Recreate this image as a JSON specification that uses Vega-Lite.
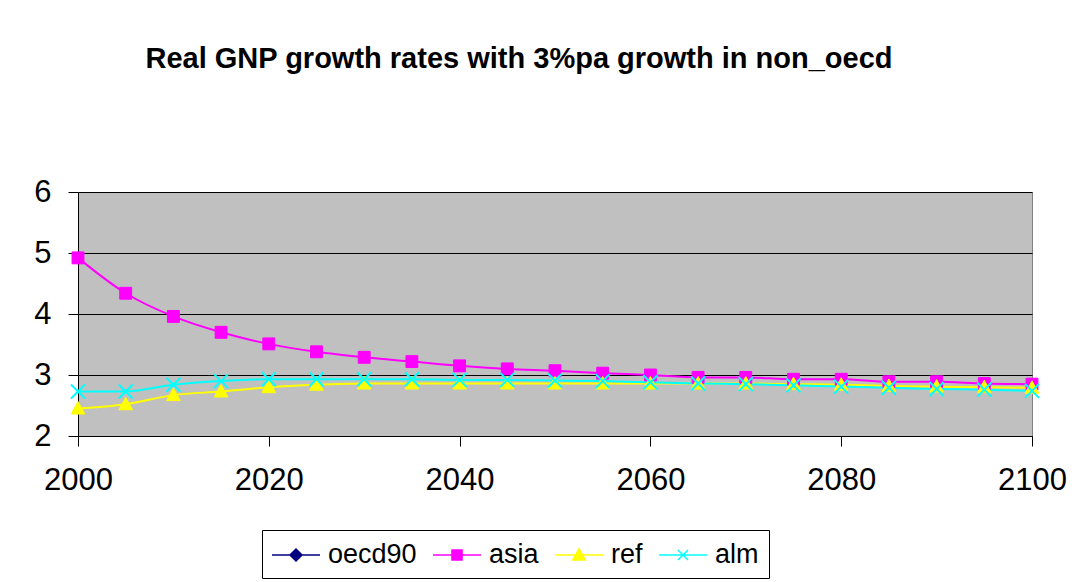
{
  "$schema": "https://vega.github.io/schema/vega-lite/v6.json",
  "autosize": {"type": "none"},
  "padding": {"left": 78, "top": 192, "right": 48, "bottom": 146},
  "width": 954,
  "height": 244,
  "background": "white",
  "title": {
    "text": "Real GNP growth rates with 3%pa growth in non_oecd",
    "anchor": "middle",
    "dx": -36,
    "offset": 79,
    "baseline": "alphabetic",
    "font": "Liberation Sans",
    "fontSize": 29,
    "fontWeight": "bold",
    "color": "black"
  },
  "config": {
    "view": {"fill": "#C0C0C0", "stroke": "#808080", "strokeWidth": 1},
    "axis": {
      "labelFont": "Liberation Sans",
      "labelFontSize": 31,
      "labelColor": "black",
      "domainColor": "black",
      "tickColor": "black",
      "gridColor": "black",
      "gridOpacity": 1,
      "domainWidth": 1,
      "tickWidth": 1,
      "gridWidth": 1,
      "tickSize": 10,
      "labelFlush": false,
      "labelOverlap": false,
      "labelBound": false,
      "title": null
    }
  },
  "data": {
    "values": [
      {"year": 2000, "series": "asia", "value": 4.92},
      {"year": 2005, "series": "asia", "value": 4.34},
      {"year": 2010, "series": "asia", "value": 3.96},
      {"year": 2015, "series": "asia", "value": 3.70},
      {"year": 2020, "series": "asia", "value": 3.51},
      {"year": 2025, "series": "asia", "value": 3.38},
      {"year": 2030, "series": "asia", "value": 3.29},
      {"year": 2035, "series": "asia", "value": 3.22},
      {"year": 2040, "series": "asia", "value": 3.15},
      {"year": 2045, "series": "asia", "value": 3.10},
      {"year": 2050, "series": "asia", "value": 3.07},
      {"year": 2055, "series": "asia", "value": 3.03},
      {"year": 2060, "series": "asia", "value": 3.00},
      {"year": 2065, "series": "asia", "value": 2.96},
      {"year": 2070, "series": "asia", "value": 2.96},
      {"year": 2075, "series": "asia", "value": 2.93},
      {"year": 2080, "series": "asia", "value": 2.93},
      {"year": 2085, "series": "asia", "value": 2.89},
      {"year": 2090, "series": "asia", "value": 2.89},
      {"year": 2095, "series": "asia", "value": 2.86},
      {"year": 2100, "series": "asia", "value": 2.85},
      {"year": 2000, "series": "ref", "value": 2.45},
      {"year": 2005, "series": "ref", "value": 2.52},
      {"year": 2010, "series": "ref", "value": 2.67},
      {"year": 2015, "series": "ref", "value": 2.73},
      {"year": 2020, "series": "ref", "value": 2.80},
      {"year": 2025, "series": "ref", "value": 2.84},
      {"year": 2030, "series": "ref", "value": 2.86},
      {"year": 2035, "series": "ref", "value": 2.86},
      {"year": 2040, "series": "ref", "value": 2.86},
      {"year": 2045, "series": "ref", "value": 2.86},
      {"year": 2050, "series": "ref", "value": 2.86},
      {"year": 2055, "series": "ref", "value": 2.86},
      {"year": 2060, "series": "ref", "value": 2.86},
      {"year": 2065, "series": "ref", "value": 2.86},
      {"year": 2070, "series": "ref", "value": 2.86},
      {"year": 2075, "series": "ref", "value": 2.85},
      {"year": 2080, "series": "ref", "value": 2.84},
      {"year": 2085, "series": "ref", "value": 2.82},
      {"year": 2090, "series": "ref", "value": 2.81},
      {"year": 2095, "series": "ref", "value": 2.80},
      {"year": 2100, "series": "ref", "value": 2.79},
      {"year": 2000, "series": "alm", "value": 2.73},
      {"year": 2005, "series": "alm", "value": 2.73},
      {"year": 2010, "series": "alm", "value": 2.84},
      {"year": 2015, "series": "alm", "value": 2.90},
      {"year": 2020, "series": "alm", "value": 2.93},
      {"year": 2025, "series": "alm", "value": 2.93},
      {"year": 2030, "series": "alm", "value": 2.93},
      {"year": 2035, "series": "alm", "value": 2.93},
      {"year": 2040, "series": "alm", "value": 2.92},
      {"year": 2045, "series": "alm", "value": 2.92},
      {"year": 2050, "series": "alm", "value": 2.91},
      {"year": 2055, "series": "alm", "value": 2.90},
      {"year": 2060, "series": "alm", "value": 2.88},
      {"year": 2065, "series": "alm", "value": 2.86},
      {"year": 2070, "series": "alm", "value": 2.85},
      {"year": 2075, "series": "alm", "value": 2.83},
      {"year": 2080, "series": "alm", "value": 2.81},
      {"year": 2085, "series": "alm", "value": 2.79},
      {"year": 2090, "series": "alm", "value": 2.77},
      {"year": 2095, "series": "alm", "value": 2.76},
      {"year": 2100, "series": "alm", "value": 2.74}
    ]
  },
  "encoding": {
    "x": {
      "field": "year",
      "type": "quantitative",
      "scale": {"domain": [2000, 2100], "nice": false, "zero": false},
      "axis": {"values": [2000, 2020, 2040, 2060, 2080, 2100], "format": "d", "grid": false, "labelPadding": 19}
    },
    "y": {
      "field": "value",
      "type": "quantitative",
      "scale": {"domain": [2, 6], "nice": false, "zero": false},
      "axis": {"values": [2, 3, 4, 5, 6], "grid": true, "labelPadding": 17}
    }
  },
  "layer": [
    {
      "mark": {"type": "line", "interpolate": "monotone", "strokeWidth": 2},
      "encoding": {
        "stroke": {
          "field": "series",
          "type": "nominal",
          "scale": {
            "domain": ["oecd90", "asia", "ref", "alm"],
            "range": ["#000080", "#FF00FF", "#FFFF00", "#00FFFF"]
          },
          "legend": {
            "orient": "none",
            "legendX": 184,
            "legendY": 338,
            "direction": "horizontal",
            "title": null,
            "strokeColor": "black",
            "fillColor": "white",
            "padding": 10,
            "columnPadding": 13,
            "labelFont": "Liberation Sans",
            "labelFontSize": 27,
            "labelColor": "black",
            "symbolSize": 784,
            "symbolOffset": 9,
            "labelOffset": 17,
            "symbolStrokeWidth": 1.5,
            "encode": {
              "symbols": {
                "update": {
                  "shape": {"signal": "datum.value === 'oecd90' ? 'M-1.714,0H1.714M0,-0.43L0.43,0L0,0.43L-0.43,0Z' : datum.value === 'asia' ? 'M-1.714,0H1.714M-0.36,-0.36H0.36V0.36H-0.36Z' : datum.value === 'ref' ? 'M-1.714,0H1.714M0,-0.45L0.45,0.36H-0.45Z' : 'M-1.714,0H1.714M-0.36,-0.36L0.36,0.36M-0.36,0.36L0.36,-0.36'"},
                  "fill": {"scale": "stroke", "field": "value"},
                  "stroke": {"scale": "stroke", "field": "value"},
                  "strokeWidth": {"value": 1.5},
                  "opacity": {"value": 1}
                }
              }
            }
          }
        }
      }
    },
    {
      "transform": [{"filter": "datum.series === 'asia'"}],
      "mark": {"type": "point", "filled": true, "opacity": 1, "size": 196, "strokeWidth": 1, "shape": "M-0.85,-0.85H0.85V0.85H-0.85Z", "fill": "#FF00FF", "stroke": "#FF00FF"}
    },
    {
      "transform": [{"filter": "datum.series === 'ref'"}],
      "mark": {"type": "point", "filled": true, "opacity": 1, "size": 196, "strokeWidth": 1, "shape": "M0,-1L0.98,0.78H-0.98Z", "fill": "#FFFF00", "stroke": "#FFFF00"}
    },
    {
      "transform": [{"filter": "datum.series === 'alm'"}],
      "mark": {"type": "point", "filled": false, "opacity": 1, "size": 196, "strokeWidth": 2, "shape": "M-1,-1L1,1M-1,1L1,-1", "stroke": "#00FFFF"}
    }
  ]
}
